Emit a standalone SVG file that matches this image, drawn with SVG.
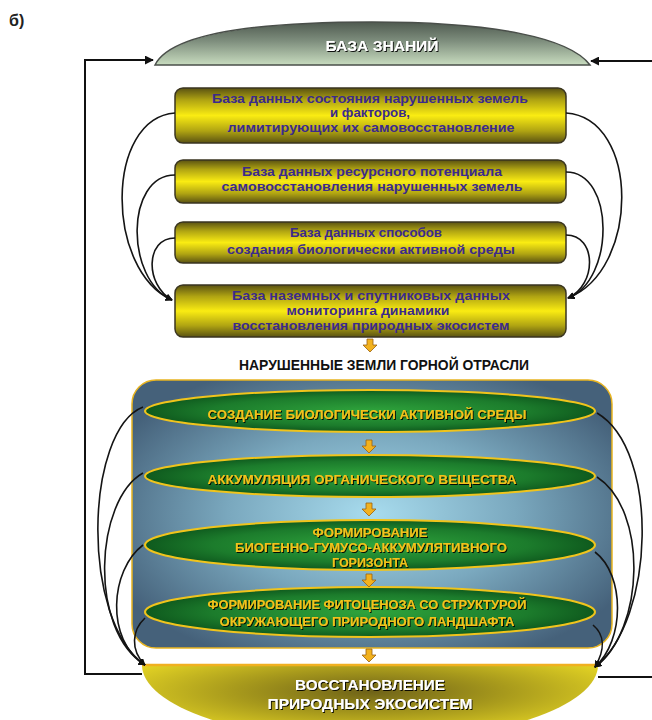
<svg xmlns="http://www.w3.org/2000/svg" width="652" height="720" viewBox="0 0 652 720">
<defs>
  <linearGradient id="gBox" x1="0" y1="0" x2="0" y2="1">
    <stop offset="0" stop-color="#5a5212"/>
    <stop offset="0.22" stop-color="#b0a412"/>
    <stop offset="0.5" stop-color="#faec12"/>
    <stop offset="0.78" stop-color="#b0a412"/>
    <stop offset="1" stop-color="#5a5212"/>
  </linearGradient>
  <linearGradient id="gDome" x1="0" y1="0" x2="0" y2="1">
    <stop offset="0" stop-color="#4f5a50"/>
    <stop offset="0.45" stop-color="#7f8f7e"/>
    <stop offset="1" stop-color="#c8dcbf"/>
  </linearGradient>
  <radialGradient id="gPanel" cx="0.5" cy="0.5" r="0.6">
    <stop offset="0" stop-color="#a8dcee"/>
    <stop offset="0.5" stop-color="#7aa8be"/>
    <stop offset="1" stop-color="#45617a"/>
  </radialGradient>
  <radialGradient id="gEll" cx="0.5" cy="0.5" r="0.5">
    <stop offset="0" stop-color="#2fa43c"/>
    <stop offset="0.7" stop-color="#1c7c2c"/>
    <stop offset="1" stop-color="#0f5a1e"/>
  </radialGradient>
  <radialGradient id="gBottom" cx="0.5" cy="0.35" r="0.6">
    <stop offset="0" stop-color="#6e6218"/>
    <stop offset="0.5" stop-color="#a89a1c"/>
    <stop offset="1" stop-color="#e4d424"/>
  </radialGradient>
  <filter id="sh" x="-10%" y="-50%" width="120%" height="200%">
    <feDropShadow dx="1" dy="1" stdDeviation="0.6" flood-color="#000" flood-opacity="0.9"/>
  </filter>
  <marker id="ah" viewBox="0 0 10 10" refX="9" refY="5" markerWidth="7" markerHeight="7" orient="auto" markerUnits="userSpaceOnUse">
    <path d="M0,0 L10,5 L0,10 Z" fill="#111"/>
  </marker>
  <marker id="ahBig" viewBox="0 0 10 10" refX="9" refY="5" markerWidth="9" markerHeight="9" orient="auto" markerUnits="userSpaceOnUse">
    <path d="M0,0 L10,5 L0,10 Z" fill="#111"/>
  </marker>
  <path id="oa" d="M-3,0 H3 V6 H7 L0,13 L-7,6 H-3 Z"/>
</defs>
<style>
  .box { fill: url(#gBox); stroke: #3a3520; stroke-width: 1.5; }
  .bt { font-family: "Liberation Sans", Arial, sans-serif; font-weight: bold; font-size: 12px; fill: #3b2a8c; text-anchor: middle; }
  .et { font-family: "Liberation Sans", Arial, sans-serif; font-weight: bold; font-size: 12px; fill: #f2c21a; text-anchor: middle; filter: url(#sh); }
  .ht { font-family: "Liberation Sans", Arial, sans-serif; font-weight: bold; font-size: 15px; fill: #ffffff; text-anchor: middle; filter: url(#sh); }
  .ell { fill: url(#gEll); stroke: #f0c41c; stroke-width: 2; }
  .oarr { fill: #f2b21e; stroke: #9a6010; stroke-width: 0.8; }
  .con { fill: none; stroke: #141414; stroke-width: 1.6; }
  .frame { fill: none; stroke: #111; stroke-width: 2; }
</style>
<rect width="652" height="720" fill="#ffffff"/>
<text x="9" y="26" font-family="Liberation Sans, sans-serif" font-weight="bold" font-size="16" fill="#222">б)</text>

<g id="knowledge-base">
  <path d="M155,65 C170,35 250,22 372,22 C495,22 570,38 590,65 Z" fill="url(#gDome)" stroke="#4a4f4a" stroke-width="1.5"/>
  <text class="ht" x="382" y="51" textLength="113" lengthAdjust="spacingAndGlyphs">БАЗА ЗНАНИЙ</text>
</g>

<g id="db1">
  <rect class="box" x="175" y="88" width="391" height="55" rx="8"/>
  <text class="bt" x="370" y="103" textLength="316" lengthAdjust="spacingAndGlyphs">База данных состояния нарушенных земель</text>
  <text class="bt" x="370" y="117" textLength="80" lengthAdjust="spacingAndGlyphs">и факторов,</text>
  <text class="bt" x="371" y="132" textLength="287" lengthAdjust="spacingAndGlyphs">лимитирующих их самовосстановление</text>
</g>
<g id="db2">
  <rect class="box" x="175" y="160" width="391" height="43" rx="8"/>
  <text class="bt" x="372" y="176" textLength="260" lengthAdjust="spacingAndGlyphs">База данных ресурсного потенциала</text>
  <text class="bt" x="372" y="191" textLength="301" lengthAdjust="spacingAndGlyphs">самовосстановления нарушенных земель</text>
</g>
<g id="db3">
  <rect class="box" x="175" y="222" width="391" height="41" rx="8"/>
  <text class="bt" x="366" y="237" textLength="152" lengthAdjust="spacingAndGlyphs">База данных способов</text>
  <text class="bt" x="371" y="254" textLength="288" lengthAdjust="spacingAndGlyphs">создания биологически активной среды</text>
</g>
<g id="db4">
  <rect class="box" x="175" y="285" width="391" height="52" rx="8"/>
  <text class="bt" x="371" y="300" textLength="278" lengthAdjust="spacingAndGlyphs">База  наземных и спутниковых данных</text>
  <text class="bt" x="368" y="315" textLength="163" lengthAdjust="spacingAndGlyphs">мониторинга динамики</text>
  <text class="bt" x="371" y="330" textLength="277" lengthAdjust="spacingAndGlyphs">восстановления природных экосистем</text>
</g>

<g id="disturbed-lands">
  <text x="384" y="370" font-family="Liberation Sans, Arial, sans-serif" font-weight="bold" font-size="15" fill="#111" text-anchor="middle" textLength="290" lengthAdjust="spacingAndGlyphs">НАРУШЕННЫЕ ЗЕМЛИ  ГОРНОЙ ОТРАСЛИ</text>
</g>

<g id="process-panel">
  <rect x="132" y="380" width="480" height="268" rx="24" fill="url(#gPanel)" stroke="#e8b420" stroke-width="1.5"/>
</g>
<g id="stage1">
  <ellipse class="ell" cx="370" cy="411" rx="225" ry="21"/>
  <text class="et" x="367" y="419" textLength="319" lengthAdjust="spacingAndGlyphs">СОЗДАНИЕ БИОЛОГИЧЕСКИ АКТИВНОЙ СРЕДЫ</text>
</g>
<g id="stage2">
  <ellipse class="ell" cx="370" cy="476" rx="225" ry="21"/>
  <text class="et" x="362" y="484" textLength="309" lengthAdjust="spacingAndGlyphs">АККУМУЛЯЦИЯ ОРГАНИЧЕСКОГО ВЕЩЕСТВА</text>
</g>
<g id="stage3">
  <ellipse class="ell" cx="370" cy="545" rx="225" ry="25"/>
  <text class="et" x="370" y="537" textLength="115" lengthAdjust="spacingAndGlyphs">ФОРМИРОВАНИЕ</text>
  <text class="et" x="371" y="552" textLength="272" lengthAdjust="spacingAndGlyphs">БИОГЕННО-ГУМУСО-АККУМУЛЯТИВНОГО</text>
  <text class="et" x="370" y="567" textLength="76" lengthAdjust="spacingAndGlyphs">ГОРИЗОНТА</text>
</g>
<g id="stage4">
  <ellipse class="ell" cx="370" cy="612" rx="225" ry="25"/>
  <text class="et" x="367" y="609" textLength="319" lengthAdjust="spacingAndGlyphs">ФОРМИРОВАНИЕ ФИТОЦЕНОЗА СО СТРУКТУРОЙ</text>
  <text class="et" x="367" y="626" textLength="295" lengthAdjust="spacingAndGlyphs">ОКРУЖАЮЩЕГО ПРИРОДНОГО ЛАНДШАФТА</text>
</g>

<g id="restoration">
  <path d="M142,665 A228,76 0 0 0 598,665 Z" fill="url(#gBottom)"/>
  <line x1="142" y1="665" x2="598" y2="665" stroke="#f0b020" stroke-width="2.5"/>
  <text class="ht" x="370" y="690" textLength="150" lengthAdjust="spacingAndGlyphs">ВОССТАНОВЛЕНИЕ</text>
  <text class="ht" x="370" y="709" textLength="205" lengthAdjust="spacingAndGlyphs">ПРИРОДНЫХ ЭКОСИСТЕМ</text>
</g>

<g id="connectors">
  <g id="flow-arrows" class="oarr">
    <use href="#oa" x="370" y="339"/>
    <use href="#oa" x="369" y="440"/>
    <use href="#oa" x="369" y="503"/>
    <use href="#oa" x="369" y="574"/>
    <use href="#oa" x="369" y="649"/>
  </g>
  <path class="frame" d="M142,674 H85 V60 H153" marker-end="url(#ahBig)"/>
  <path class="frame" d="M652,61 H591" marker-end="url(#ahBig)"/>
  <path class="frame" d="M598,677 H652"/>

  <path class="con" d="M175,113 C105,118 105,270 172,300" marker-end="url(#ah)"/>
  <path class="con" d="M175,175 C125,175 125,280 172,300" marker-end="url(#ah)"/>
  <path class="con" d="M175,238 C145,238 145,285 172,300" marker-end="url(#ah)"/>
  <path class="con" d="M566,113 C640,118 640,270 568,298" marker-end="url(#ah)"/>
  <path class="con" d="M566,172 C615,172 615,280 568,298" marker-end="url(#ah)"/>
  <path class="con" d="M566,235 C597,235 597,285 568,298" marker-end="url(#ah)"/>

  <path class="con" d="M143,407 C85,430 80,620 145,665" marker-end="url(#ah)"/>
  <path class="con" d="M143,473 C95,500 88,630 145,665" marker-end="url(#ah)"/>
  <path class="con" d="M143,545 C110,570 105,640 145,665" marker-end="url(#ah)"/>
  <path class="con" d="M145,618 C132,630 130,650 145,665" marker-end="url(#ah)"/>
  <path class="con" d="M597,413 C660,450 655,620 595,667" marker-end="url(#ah)"/>
  <path class="con" d="M597,477 C648,510 645,630 595,667" marker-end="url(#ah)"/>
  <path class="con" d="M595,552 C625,575 625,640 595,667" marker-end="url(#ah)"/>
  <path class="con" d="M593,625 C605,635 605,650 595,667" marker-end="url(#ah)"/>
</g>
</svg>
